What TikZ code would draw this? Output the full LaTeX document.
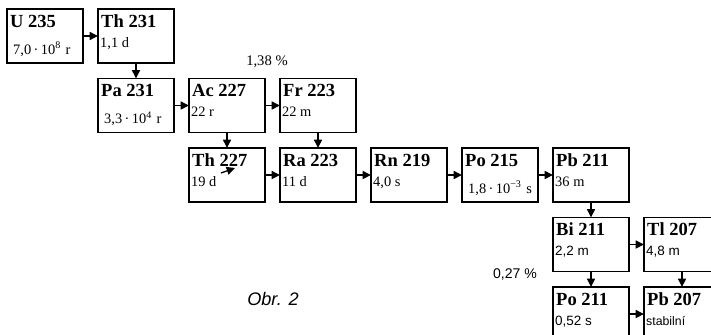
\documentclass[tikz,border=0pt]{standalone}
\usepackage{fontspec}
\setmainfont{Liberation Serif}
\setsansfont{Liberation Sans}
\usepackage{tikz}
\usetikzlibrary{arrows.meta,positioning}

\begin{document}
\begin{tikzpicture}[x=0.3mm,y=-0.3mm,node distance=4.65mm and 4.5mm,
  nbox/.style={draw,line width=1.2pt,minimum width=22.8mm,minimum height=16.2mm,inner sep=0pt,outer sep=0pt},
  ttl/.style={anchor=base west,inner sep=0pt,xshift=0.9mm,yshift=-5.5mm,font=\fontsize{15.8}{18}\selectfont\bfseries},
  hl/.style={anchor=base west,inner sep=0pt,xshift=0.6mm,yshift=-11.4mm,font=\fontsize{12.3}{14}\selectfont},
  hli/.style={hl,xshift=1.2mm,yshift=-2.1mm},
  hls/.style={hl,font=\sffamily\fontsize{11.5}{14}\selectfont},
  arr/.style={-{Triangle[length=2.5mm,width=2.4mm]},line width=1.1pt}]
\useasboundingbox (0,0) rectangle (711,335);
% first row
\node[nbox,anchor=north west] (u235) at (7,9) {};
\node[ttl] (u235n) at (u235.north west) {U 235}; \node[hli] (u235h) at (u235.north west) {7,0\,·\,10\textsuperscript{8}\,\,r};
\node[nbox,right=of u235] (th231) {};
\node[ttl] (th231n) at (th231.north west) {Th 231}; \node[hl] (th231h) at (th231.north west) {1,1 d};
% second row
\node[nbox,below=of th231] (pa231) {};
\node[ttl] (pa231n) at (pa231.north west) {Pa 231}; \node[hli] (pa231h) at (pa231.north west) {3,3\,·\,10\textsuperscript{4}\,\,r};
\node[nbox,right=of pa231] (ac227) {};
\node[ttl] (ac227n) at (ac227.north west) {Ac 227}; \node[hl] (ac227h) at (ac227.north west) {22 r};
\node[nbox,right=of ac227] (fr223) {};
\node[ttl] (fr223n) at (fr223.north west) {Fr 223}; \node[hl] (fr223h) at (fr223.north west) {22 m};
% third row
\node[nbox,below=of ac227] (th227) {};
\node[ttl] (th227n) at (th227.north west) {Th 227}; \node[hl] (th227h) at (th227.north west) {19 d};
\node[nbox,right=of th227] (ra223) {};
\node[ttl] (ra223n) at (ra223.north west) {Ra 223}; \node[hl] (ra223h) at (ra223.north west) {11 d};
\node[nbox,right=of ra223] (rn219) {};
\node[ttl] (rn219n) at (rn219.north west) {Rn 219}; \node[hl] (rn219h) at (rn219.north west) {4,0 s};
\node[nbox,right=of rn219] (po215) {};
\node[ttl] (po215n) at (po215.north west) {Po 215}; \node[hli] (po215h) at (po215.north west) {1,8\,·\,10\textsuperscript{−3}\,\,s};
\node[nbox,right=of po215] (pb211) {};
\node[ttl] (pb211n) at (pb211.north west) {Pb 211}; \node[hl] (pb211h) at (pb211.north west) {36 m};
% last rows
\node[nbox,below=of pb211] (bi211) {};
\node[ttl] (bi211n) at (bi211.north west) {Bi 211}; \node[hls] (bi211h) at (bi211.north west) {2,2 m};
\node[nbox,right=of bi211] (tl207) {};
\node[ttl] (tl207n) at (tl207.north west) {Tl 207}; \node[hls] (tl207h) at (tl207.north west) {4,8 m};
\node[nbox,below=of bi211] (po211) {};
\node[ttl] (po211n) at (po211.north west) {Po 211}; \node[hls] (po211h) at (po211.north west) {0,52 s};
\node[nbox,right=of po211] (pb207) {};
\node[ttl] (pb207n) at (pb207.north west) {Pb 207}; \node[hls,font=\sffamily\fontsize{10.5}{12}\selectfont] (pb207h) at (pb207.north west) {stabilní};
% branching ratios and caption
\node[font=\fontsize{12.5}{14}\selectfont] (br1) at (267,62) {1,38 \%};
\node[font=\sffamily\fontsize{12}{14}\selectfont] (br2) at (515,274) {0,27 \%};
\node[font=\sffamily\itshape\fontsize{15.5}{18}\selectfont] (obr) at (273,299) {Obr. 2};
\draw[arr] (u235)--(th231); \draw[arr] (th231)--(pa231); \draw[arr] (pa231)--(ac227); \draw[arr] (ac227)--(fr223);
\draw[arr] (ac227)--(th227); \draw[arr] (fr223)--(ra223); \draw[arr] (th227)--(ra223); \draw[arr] (ra223)--(rn219);
\draw[arr] (rn219)--(po215); \draw[arr] (po215)--(pb211); \draw[arr] (pb211)--(bi211); \draw[arr] (bi211)--(tl207);
\draw[arr] (bi211)--(po211); \draw[arr] (tl207)--(pb207); \draw[arr] (po211)--(pb207);
\coordinate (s1) at ([shift={(32,25)}]th227.north west);
\coordinate (s2) at ([shift={(46,20)}]th227.north west);
\draw[arr] (s1)--(s2);
\end{tikzpicture}
\end{document}
